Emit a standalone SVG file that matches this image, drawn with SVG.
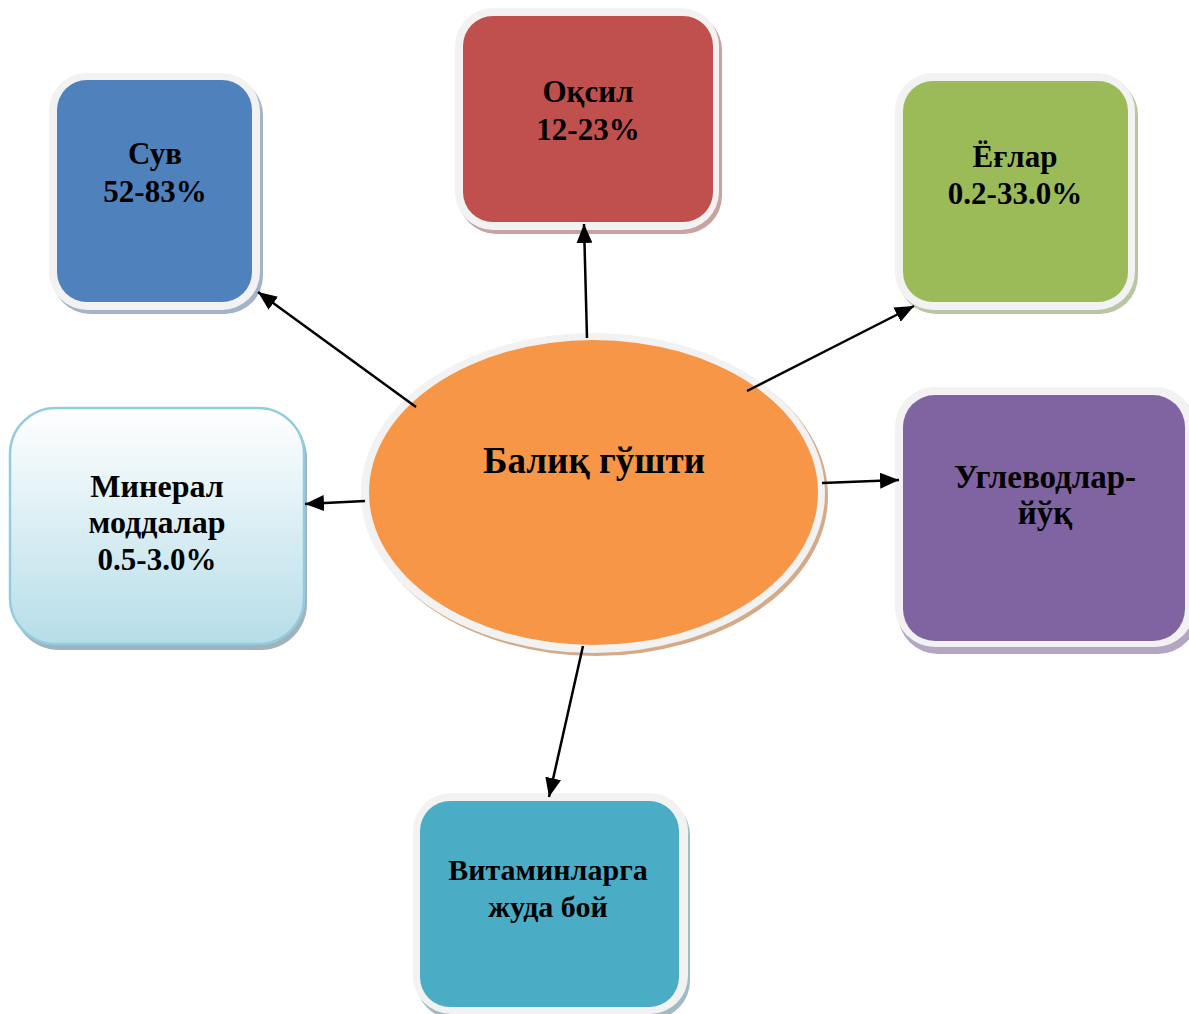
<svg xmlns="http://www.w3.org/2000/svg" width="1189" height="1014" viewBox="0 0 1189 1014">
<defs>
<style>
.t{font-family:"Liberation Serif","Times New Roman",serif;font-weight:bold;font-size:31px;fill:#000;text-anchor:middle}
.frame{fill:#f2f2f2}
.conn{stroke:#000;stroke-width:2.5;fill:none;marker-end:url(#ah)}
</style>
<marker id="ah" markerUnits="userSpaceOnUse" markerWidth="20" markerHeight="16" refX="19" refY="8" orient="auto">
<path d="M0,0 L19,8 L0,16 Z" fill="#000"/>
</marker>
<linearGradient id="gmin" x1="0" y1="0" x2="0" y2="1">
<stop offset="0" stop-color="#ffffff"/>
<stop offset="1" stop-color="#b6dde8"/>
</linearGradient>
</defs>
<rect width="1189" height="1014" fill="#fff"/>

<g id="node-suv">
<rect x="52" y="77" width="211" height="237" rx="38" fill="#a3b3c8"/>
<rect class="frame" x="49" y="73" width="211" height="237" rx="38"/>
<rect x="57" y="80" width="195" height="222" rx="30" fill="#4f81bd"/>
<text class="t" x="155" y="164">Сув</text>
<text class="t" x="155" y="202">52-83%</text>
</g>

<g id="node-oqsil">
<rect x="458" y="12" width="264" height="222" rx="38" fill="#c9a3a2"/>
<rect class="frame" x="455" y="8" width="264" height="222" rx="38"/>
<rect x="463" y="16" width="250" height="206" rx="30" fill="#c0504d"/>
<text class="t" x="588" y="102">Оқсил</text>
<text class="t" x="588" y="140">12-23%</text>
</g>

<g id="node-yoglar">
<rect x="898" y="77" width="240" height="237" rx="38" fill="#b9c6a4"/>
<rect class="frame" x="895" y="73" width="240" height="237" rx="38"/>
<rect x="903" y="81" width="225" height="221" rx="30" fill="#9bbb59"/>
<text class="t" x="1015" y="167">Ёғлар</text>
<text class="t" x="1015" y="204">0.2-33.0%</text>
</g>

<g id="node-uglevod">
<rect x="898" y="391" width="300" height="263" rx="40" fill="#b2a6c2"/>
<rect class="frame" x="895" y="387" width="300" height="260" rx="40"/>
<rect x="903" y="395" width="282" height="246" rx="32" fill="#8064a2"/>
<text class="t" x="1045" y="488" style="font-size:33px">Углеводлар-</text>
<text class="t" x="1045" y="524" style="font-size:33px">йўқ</text>
</g>

<g id="node-mineral">
<rect x="13" y="412" width="294" height="238" rx="46" fill="#9fb3bd"/>
<rect x="10" y="408" width="294" height="236" rx="46" fill="url(#gmin)" stroke="#93cddd" stroke-width="2.5"/>
<text class="t" x="157" y="497" style="font-size:32px">Минерал</text>
<text class="t" x="157" y="533" style="font-size:32px">моддалар</text>
<text class="t" x="157" y="570">0.5-3.0%</text>
</g>

<g id="node-vitamin">
<rect x="416" y="797" width="274" height="222" rx="38" fill="#9fbcc4"/>
<rect class="frame" x="413" y="793" width="275" height="221" rx="38"/>
<rect x="420" y="801" width="259" height="206" rx="30" fill="#4bacc6"/>
<text class="t" x="548" y="880" style="font-size:30px">Витаминларга</text>
<text class="t" x="548" y="917" style="font-size:30px">жуда бой</text>
</g>

<g id="node-center">
<ellipse cx="596" cy="496" rx="232" ry="160" fill="#d5aa86"/>
<ellipse cx="593" cy="493" rx="232" ry="160" fill="#f2f2f2"/>
<ellipse cx="593.5" cy="492.5" rx="224.5" ry="152.5" fill="#f79646"/>
<text class="t" x="594" y="473" style="font-size:37px">Балиқ гўшти</text>
</g>

<g id="connectors">
<path class="conn" d="M416,407 L258,292"/>
<path class="conn" d="M587,338 L584,224"/>
<path class="conn" d="M747,391 L914,306"/>
<path class="conn" d="M822,483 L899,480"/>
<path class="conn" d="M365,501 L305,504"/>
<path class="conn" d="M583,646 L549,797"/>
</g>
</svg>
